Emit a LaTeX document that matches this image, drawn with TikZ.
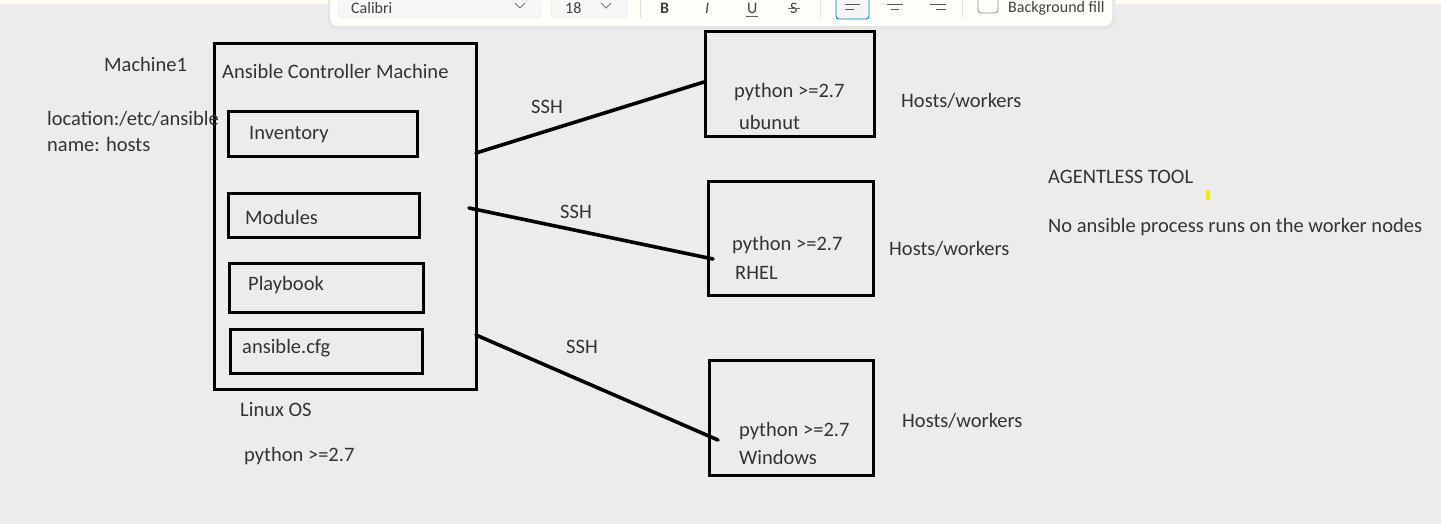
\documentclass[tikz,border=0pt]{standalone}
\usepackage{fontspec}
\setmainfont{Carlito}
\begin{document}
\begin{tikzpicture}[x=1pt,y=-1pt,
  txt/.style={anchor=west,inner sep=0pt,text=black!80,font=\fontsize{20.5}{24}\selectfont},
  tbtxt/.style={anchor=west,inner sep=0pt,text=black!75,font=\fontsize{16}{19}\selectfont},
  box/.style={draw=black,line width=3.2pt,anchor=north west,inner sep=0pt,fill=none},
  conn/.style={line width=3.6pt,line cap=round,black}]
\useasboundingbox (0,0) rectangle (1441,524);
\clip (0,0) rectangle (1441,524);
\fill[black!7.5] (0,0) rectangle (1441,524);
\fill[black!8!yellow!6] (0,0) rectangle (1441,4.5);
% toolbar
\fill[black!10,rounded corners=8pt] (328,-10) rectangle (1115,29);
\fill[black!3!yellow!2,rounded corners=8pt] (330,-10) rectangle (1112,26);
\draw[black!12,fill=white!97!black,rounded corners=4pt] (338,-10) rectangle (541,18);
\node[tbtxt] (tbfont) at (351,8) {Calibri};
\draw[black!55,line width=0.8pt] (515,3) -- (520,8) -- (525,3);
\draw[black!12,fill=white!97!black,rounded corners=4pt] (551,-10) rectangle (627,18);
\node[tbtxt] (tbsize) at (565,8) {18};
\draw[black!55,line width=0.8pt] (601,3) -- (606,8) -- (611,3);
\draw[black!12] (640,-10) -- (640,18);
\node[tbtxt,font=\fontsize{16}{19}\bfseries] (tbb) at (660,8) {B};
\node[tbtxt,font=\fontsize{16}{19}\itshape] (tbi) at (705,8) {I};
\node[tbtxt] (tbu) at (747,8) {U};
\draw[black!60,line width=0.8pt] (746,16) -- (758,16);
\node[tbtxt] (tbs) at (790,8) {S};
\draw[black!60,line width=0.8pt] (788,8.5) -- (800,8.5);
\draw[black!12] (820,-10) -- (820,18);
\draw[blue!50!black!50!cyan,line width=0.9pt,fill=white!96!black,rounded corners=3pt] (836,-10) rectangle (869,19);
\draw[black!65,line width=0.8pt] (845,4) -- (860,4) (845,9) -- (854,9);
\draw[black!65,line width=0.8pt] (887,4) -- (903,4) (891,9) -- (899,9);
\draw[black!65,line width=0.8pt] (930,4) -- (946,4) (936,9) -- (946,9);
\draw[black!12] (962,-10) -- (962,18);
\draw[black!45,line width=0.8pt,rounded corners=3pt] (978,-6) rectangle (998,13);
\node[tbtxt] (tbbg) at (1008,8) {Background fill};
% controller
\node[box,minimum width=262pt,minimum height=346pt] (ctrl) at (213,42) {};
\node[box,minimum width=189pt,minimum height=45pt] (inv) at (227,110) {};
\node[box,minimum width=191pt,minimum height=44pt] (mod) at (227,192) {};
\node[box,minimum width=194pt,minimum height=49pt] (play) at (228,262) {};
\node[box,minimum width=192pt,minimum height=44pt] (cfg) at (229,328) {};
\node[txt] (ctrlt) at (222,71) {Ansible Controller Machine};
\node[txt] (invt) at (249,135) {Inventory};
\node[txt] (modt) at (245,217) {Modules};
\node[txt] (playt) at (248,285) {Playbook};
\node[txt] (cfgt) at (242,348) {ansible.cfg};
\node[txt] (os) at (240,410) {Linux OS};
\node[txt] (py0) at (244,456) {python >=2.7};
\node[txt] (m1) at (104,64) {Machine1};
\node[txt] (loc) at (47,119) {location:/etc/ansible};
\node[txt] (nm) at (47,144) {name: hosts};
% hosts
\node[box,minimum width=169pt,minimum height=105pt] (h1) at (704,30) {};
\node[box,minimum width=165pt,minimum height=114pt] (h2) at (707,180) {};
\node[box,minimum width=164pt,minimum height=115pt] (h3) at (708,359) {};
\node[txt] (h1a) at (734,92) {python >=2.7};
\node[txt] (h1b) at (739,122) {ubunut};
\node[txt] (h2a) at (732,245) {python >=2.7};
\node[txt] (h2b) at (735,273) {RHEL};
\node[txt] (h3a) at (739,431) {python >=2.7};
\node[txt] (h3b) at (739,457) {Windows};
\node[txt] (w1) at (901,101) {Hosts/workers};
\node[txt] (w2) at (889,249) {Hosts/workers};
\node[txt] (w3) at (902,421) {Hosts/workers};
\node[txt] (ag) at (1048,177) {AGENTLESS TOOL};
\node[txt] (no) at (1048,227) {No ansible process runs on the worker nodes};
\fill[yellow!90!orange] (1206,190) rectangle (1209.5,200);
% connectors
\coordinate (c1a) at (476,153);
\coordinate (c1b) at (704,82);
\coordinate (c2a) at (469,208);
\coordinate (c2b) at (713,259);
\coordinate (c3a) at (476,335);
\coordinate (c3b) at (718,440);
\draw[conn] (c1a) -- (c1b);
\draw[conn] (c2a) -- (c2b);
\draw[conn] (c3a) -- (c3b);
\node[txt] (ssh1) at (531,107) {SSH};
\node[txt] (ssh2) at (560,212) {SSH};
\node[txt] (ssh3) at (566,347) {SSH};
\end{tikzpicture}
\end{document}
